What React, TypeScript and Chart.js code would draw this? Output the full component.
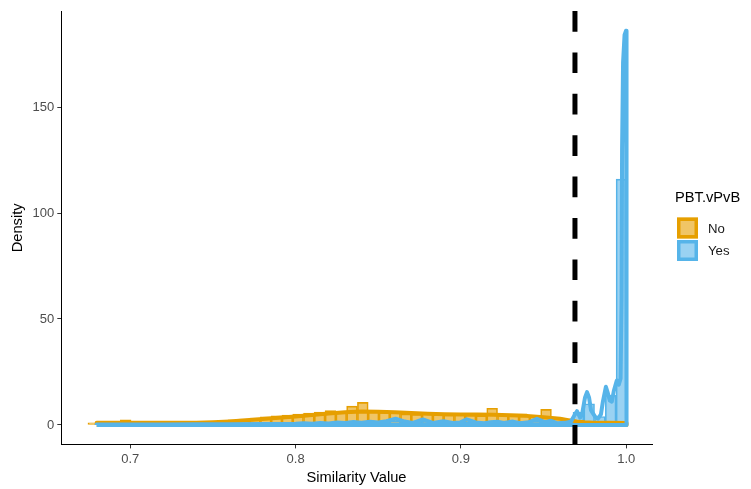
import React, { useEffect, useRef } from "react";
import { Chart, registerables } from "chart.js";
Chart.register(...registerables);

// ---- data ----
const binStart = 0.6744;
const binWidth = 0.00652;
const noBars = [
  1.0, 1.0, 1.0, 2.4, 1.0, 0.9, 1.0, 0.9, 1.0, 1.0,
  1.1, 1.2, 2.2, 2.4, 2.8, 3.3, 3.8, 4.3, 4.7, 5.2,
  5.6, 6.1, 6.8, 6.5, 8.9, 10.7, 6.6, 5.9, 5.8, 5.2,
  5.0, 5.4, 5.0, 4.7, 5.1, 4.6, 4.4, 7.9, 4.7, 4.5,
  4.3, 3.9, 7.4, 3.5, 2.8, 1.6, 1.3, 1.1, 1.0, 0.9,
];
const yesBars = [
  0, 0.2, 0.2, 0.2, 0.2, 0.2, 0.2, 0.2, 0.2, 0.2,
  0.2, 0.2, 0.2, 0.2, 0.2, 0.4, 0.4, 0.4, 0.5, 0.6,
  0.8, 0.9, 1.0, 1.1, 1.2, 1.2, 1.4, 1.8, 2.0, 1.6,
  1.7, 1.8, 1.4, 1.5, 1.7, 1.5, 1.1, 1.0, 1.2, 1.4,
  1.6, 1.8, 1.6, 1.1, 2.5, 6, 10, 4, 14, 116,
];
const noDensX = [
  0.6797, 0.6797, 0.69, 0.70, 0.72, 0.74, 0.75, 0.76, 0.77, 0.78, 0.79, 0.80,
  0.81, 0.82, 0.83, 0.84, 0.85, 0.86, 0.87, 0.88, 0.89, 0.90, 0.91, 0.92,
  0.93, 0.94, 0.95, 0.96, 0.965, 0.97, 0.975, 0.98, 0.99, 1.0002, 1.0002, 0.6797,
];
const noDensY = [
  0, 1.0, 1.05, 1.1, 1.0, 1.05, 1.3, 1.7, 2.2, 2.8, 3.4, 4.0,
  4.7, 5.4, 6.0, 6.4, 6.3, 6.0, 5.6, 5.3, 5.1, 5.0, 4.9, 4.8,
  4.6, 4.3, 3.7, 2.9, 2.3, 1.7, 1.3, 1.1, 1.0, 0.9, 0, 0,
];
const yesDensX = [
  0.6797, 0.6797, 0.70, 0.72, 0.74, 0.76, 0.78, 0.79, 0.80, 0.805, 0.81, 0.815,
  0.82, 0.825, 0.83, 0.835, 0.84, 0.845, 0.85, 0.855, 0.8605, 0.866, 0.871, 0.877,
  0.883, 0.8895, 0.895, 0.8995, 0.9035, 0.909, 0.914, 0.918, 0.922, 0.926, 0.9315, 0.936,
  0.941, 0.946, 0.951, 0.9545, 0.9585, 0.9627, 0.9665, 0.969, 0.9702, 0.9721, 0.9733, 0.9751,
  0.9763, 0.9775, 0.9787, 0.9799, 0.9811, 0.9829, 0.9847, 0.9859, 0.9877, 0.9889, 0.9901, 0.9913,
  0.9925, 0.9943, 0.9955, 0.9966, 0.9972, 0.9975, 0.9981, 0.999, 0.9999, 1.0002, 1.0002, 0.6797,
];
const yesDensY = [
  0, 0.2, 0.2, 0.25, 0.3, 0.35, 0.45, 0.5, 0.6, 0.8, 0.6, 0.9,
  0.7, 1.2, 0.9, 1.4, 1.1, 1.5, 1.2, 1.8, 3.0, 1.6, 1.0, 2.6,
  1.0, 1.8, 0.9, 1.2, 2.7, 1.2, 0.8, 1.3, 1.5, 0.9, 1.6, 0.8,
  1.3, 2.9, 1.2, 2.0, 0.8, 1.0, 1.5, 5.0, 6.5, 3.5, 5.0, 13,
  15.5, 13, 7, 5.5, 4, 3, 5, 11, 18, 15, 11.5, 11,
  16, 21, 19, 22, 60, 130, 171, 184, 186, 186, 0, 0,
];
const threshold = 0.969;
const xTicks = [0.7, 0.8, 0.9, 1.0];
const yTicks = [0, 50, 100, 150];
const xMin = 0.6581, xMax = 1.0156;
const yMin = -9.3, yMax = 195.3;
const xLabel = "Similarity Value";
const yLabel = "Density";
const legendTitle = "PBT.vPvB";
const groups = ["No", "Yes"];

const FONT = "'Liberation Sans', Arial, sans-serif";
const ORANGE = "#E69F00";
const BLUE = "#56B4E9";
const ORANGE_FILL = "rgba(230,159,0,0.6)";
const BLUE_FILL = "rgba(86,180,233,0.6)";

const W = 751, H = 489;

export default function App() {
  const ref = useRef<HTMLCanvasElement | null>(null);
  useEffect(() => {
    if (!ref.current) return;
    const centers = noBars.map((_, i) => binStart + binWidth * (i + 0.5));
    const noBarData = noBars.map((y, i) => ({ x: centers[i], y }));
    const yesBarData = yesBars.map((y, i) => ({ x: centers[i], y }));
    const noDens = noDensX.map((x, i) => ({ x, y: noDensY[i] }));
    const yesDens = yesDensX.map((x, i) => ({ x, y: yesDensY[i] }));

    const overlay = {
      id: "overlay",
      afterDraw(chart: any) {
        const { ctx, chartArea: ca } = chart;
        ctx.save();
        ctx.fillStyle = "#000";
        ctx.font = `14.67px ${FONT}`;
        ctx.textAlign = "center";
        ctx.textBaseline = "middle";
        ctx.fillText(xLabel, (ca.left + ca.right) / 2, 478);
        ctx.save();
        ctx.translate(18, (ca.top + ca.bottom) / 2);
        ctx.rotate(-Math.PI / 2);
        ctx.fillText(yLabel, 0, 0);
        ctx.restore();
        // legend
        ctx.textAlign = "left";
        ctx.fillText(legendTitle, 675, 198);
        const cols = [ORANGE, BLUE];
        const fills = [ORANGE_FILL, BLUE_FILL];
        groups.forEach((g, i) => {
          const cy = 228 + i * 22.5;
          const x0 = 677, size = 21;
          ctx.fillStyle = "#fff";
          ctx.fillRect(x0, cy - size / 2, size, size);
          ctx.fillStyle = fills[i];
          ctx.fillRect(x0, cy - size / 2, size, size);
          ctx.strokeStyle = cols[i];
          ctx.lineWidth = 3.5;
          ctx.strokeRect(x0 + 1.75, cy - size / 2 + 1.75, size - 3.5, size - 3.5);
          ctx.fillStyle = "#1a1a1a";
          ctx.font = `13.2px ${FONT}`;
          ctx.fillText(g, 708, cy + 1);
        });
        ctx.restore();
      },
    };

    const chart = new Chart(ref.current, {
      type: "line",
      data: {
        datasets: [
          {
            type: "line",
            label: "threshold",
            data: [
              { x: threshold, y: yMax },
              { x: threshold, y: yMin },
            ],
            borderColor: "#000",
            borderWidth: 5,
            borderDash: [20.7, 20.7],
            borderCapStyle: "butt",
            pointRadius: 0,
            tension: 0,
            order: 0,
          },
          {
            type: "line",
            label: "Yes density",
            data: yesDens,
            borderColor: BLUE,
            borderWidth: 4,
            borderJoinStyle: "round",
            pointRadius: 0,
            tension: 0,
            fill: false,
            order: 1,
          },
          {
            type: "line",
            label: "No density",
            data: noDens,
            borderColor: ORANGE,
            borderWidth: 4,
            borderJoinStyle: "round",
            pointRadius: 0,
            tension: 0,
            fill: false,
            order: 2,
          },
          {
            type: "bar",
            label: "Yes",
            data: yesBarData,
            backgroundColor: BLUE_FILL,
            borderColor: BLUE,
            borderWidth: 1,
            borderSkipped: false,
            grouped: false,
            barPercentage: 1,
            categoryPercentage: 1,
            order: 3,
          },
          {
            type: "bar",
            label: "No",
            data: noBarData,
            backgroundColor: ORANGE_FILL,
            borderColor: ORANGE,
            borderWidth: 1,
            borderSkipped: false,
            grouped: false,
            barPercentage: 1,
            categoryPercentage: 1,
            order: 4,
          },
        ] as any,
      },
      options: {
        animation: false,
        responsive: false,
        maintainAspectRatio: false,
        devicePixelRatio: 1,
        layout: { padding: { left: 0, top: 11, right: 99, bottom: 0 } },
        plugins: { legend: { display: false }, tooltip: { enabled: false }, title: { display: false } },
        scales: {
          x: {
            type: "linear",
            min: xMin,
            max: xMax,
            offset: false,
            grid: { display: true, drawOnChartArea: false, drawTicks: true, tickLength: 3.7, tickColor: "#333333", tickWidth: 1, offset: false },
            border: { display: true, color: "#000", width: 1 },
            ticks: {
              font: { family: FONT, size: 13 },
              color: "#4D4D4D",
              padding: 3,
              maxRotation: 0,
              autoSkip: false,
              callback: (v: any) => Number(v).toFixed(1),
            },
            afterBuildTicks: (s: any) => {
              s.ticks = xTicks.map((v) => ({ value: v }));
            },
            afterFit: (s: any) => {
              s.height = H - 444.7;
            },
          },
          y: {
            type: "linear",
            min: yMin,
            max: yMax,
            grid: { display: true, drawOnChartArea: false, drawTicks: true, tickLength: 3.7, tickColor: "#333333", tickWidth: 1 },
            border: { display: true, color: "#000", width: 1 },
            ticks: {
              font: { family: FONT, size: 13 },
              color: "#4D4D4D",
              padding: 3,
              autoSkip: false,
              callback: (v: any) => String(v),
            },
            afterBuildTicks: (s: any) => {
              s.ticks = yTicks.map((v) => ({ value: v }));
            },
            afterFit: (s: any) => {
              s.width = 61;
            },
          },
        },
      } as any,
      plugins: [overlay],
    });
    return () => chart.destroy();
  }, []);

  return (
    <div style={{ position: "absolute", left: 0, top: 0, width: W, height: H, background: "#fff" }}>
      <canvas ref={ref} width={W} height={H} style={{ width: W, height: H, display: "block" }} />
    </div>
  );
}
